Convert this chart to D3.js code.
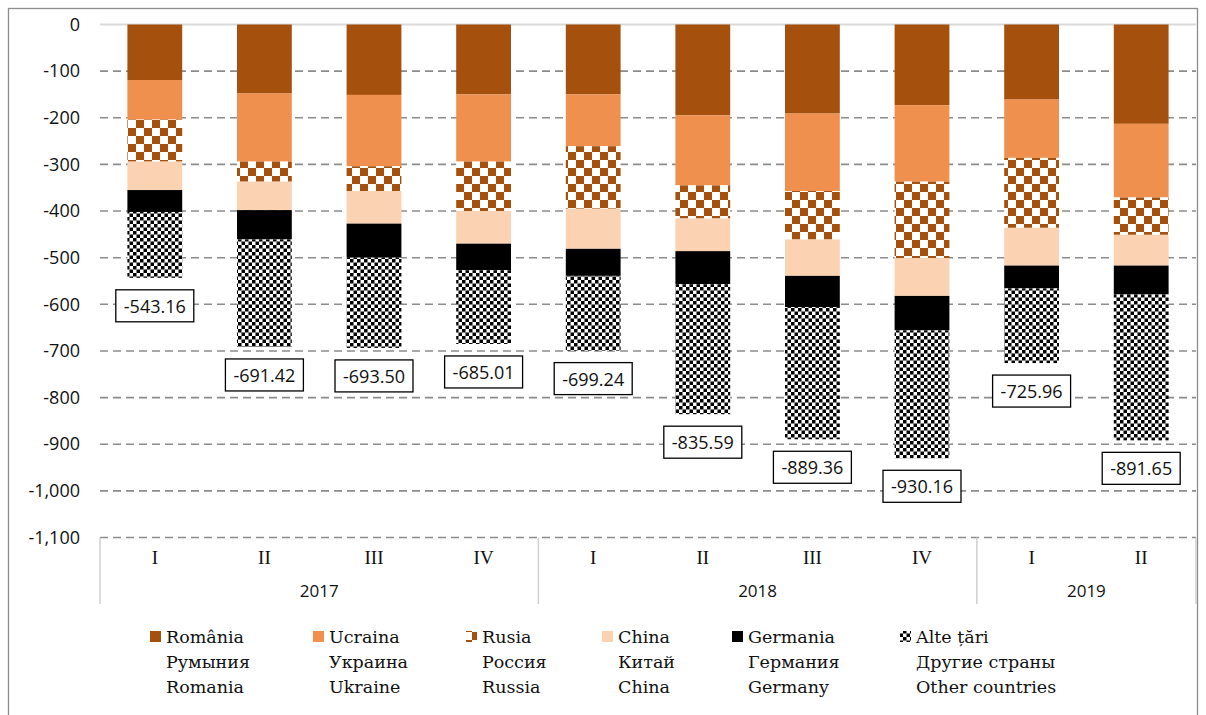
<!DOCTYPE html>
<html><head><meta charset="utf-8">
<script src="https://cdn.jsdelivr.net/npm/d3@7"></script>
<style>body{margin:0;background:#fff}svg{display:block}</style>
</head><body><svg id="c" width="1206" height="715"></svg>
<script>
const quarters = ["I","II","III","IV","I","II","III","IV","I","II"];
const years = ["2017","2017","2017","2017","2018","2018","2018","2018","2019","2019"];
const yearGroups = ["2017","2018","2019"];
const romania = [-119,-148,-151,-150,-150,-195,-191,-173,-161,-213];
const ukraine = [-85,-146,-153,-144,-111,-150,-166,-164,-125,-158];
const russia  = [-90,-43,-53,-106,-134,-71,-104,-164,-150,-80];
const china   = [-61,-61,-70,-70,-86,-70,-78,-81,-81,-66];
const germany = [-47,-63,-73,-57,-58,-71,-67,-74,-49,-62];
const others  = [-141.16,-230.42,-193.50,-158.01,-160.24,-278.59,-283.36,-274.16,-159.96,-312.65];
const totals  = [-543.16,-691.42,-693.50,-685.01,-699.24,-835.59,-889.36,-930.16,-725.96,-891.65];
const yTicks = [0,-100,-200,-300,-400,-500,-600,-700,-800,-900,-1000,-1100];
const seriesNames = [
  ["România","Румыния","Romania"],
  ["Ucraina","Украина","Ukraine"],
  ["Rusia","Россия","Russia"],
  ["China","Китай","China"],
  ["Germania","Германия","Germany"],
  ["Alte țări","Другие страны","Other countries"]
];
const seriesData = [romania, ukraine, russia, china, germany, others];
const fills = ["#a5500c","#f0904f","url(#pRus)","#fbd3b2","#000000","url(#pOth)"];

const svg = d3.select("#c");
const defs = svg.append("defs");
// Russia: large checkerboard brown/white
const pr = defs.append("pattern").attr("id","pRus").attr("patternUnits","userSpaceOnUse").attr("width",16).attr("height",16);
pr.append("rect").attr("width",16).attr("height",16).attr("fill","#fff");
pr.append("rect").attr("width",8).attr("height",8).attr("fill","#a5500c");
pr.append("rect").attr("x",8).attr("y",8).attr("width",8).attr("height",8).attr("fill","#a5500c");
// Others: small checkerboard black/white
const po = defs.append("pattern").attr("id","pOth").attr("patternUnits","userSpaceOnUse").attr("width",7).attr("height",7);
po.append("rect").attr("width",7).attr("height",7).attr("fill","#fff");
po.append("rect").attr("width",3.5).attr("height",3.5).attr("fill","#000");
po.append("rect").attr("x",3.5).attr("y",3.5).attr("width",3.5).attr("height",3.5).attr("fill","#000");

// frame
svg.append("rect").attr("x",8.5).attr("y",8.5).attr("width",1189).attr("height",720)
  .attr("fill","none").attr("stroke","#8c8c8c").attr("stroke-width",1.3);

const x0 = 100, x1 = 1196;
const x = d3.scaleBand().domain(d3.range(quarters.length)).range([x0,x1]).paddingInner(0.5).paddingOuter(0.25);
const y = d3.scaleLinear().domain([0,-1100]).range([24.5,537.5]);

// grid
svg.append("g").selectAll("line").data(yTicks).join("line")
  .attr("x1",x0).attr("x2",x1).attr("y1",d=>y(d)).attr("y2",d=>y(d))
  .attr("stroke",d=>d===0?"#d9d9d9":"#8c8c8c")
  .attr("stroke-width",d=>d===0?2:1.6)
  .attr("stroke-dasharray",d=>d===0?null:"8,5");

// y axis labels
const yAxis = d3.axisLeft(y).tickValues(yTicks).tickSize(0).tickPadding(0).tickFormat(d3.format(","));
const ya = svg.append("g").attr("transform","translate(80,0)").call(yAxis);
ya.select(".domain").remove();
ya.selectAll("text").attr("font-family","Open Sans").attr("font-size",18).attr("fill","#111").text(d=>d3.format(",")(d).replace("−","-"));

// stacks
const cum = quarters.map(()=>0);
seriesData.forEach((arr,si)=>{
  const g = svg.append("g");
  arr.forEach((v,i)=>{
    const top = cum[i], bot = cum[i]+v;
    cum[i] = bot;
    g.append("rect").attr("x",x(i)).attr("width",x.bandwidth())
      .attr("y",y(top)).attr("height",y(bot)-y(top)).attr("fill",fills[si]);
  });
});

// total labels
const lg = svg.append("g");
totals.forEach((t,i)=>{
  const cx = x(i)+x.bandwidth()/2, cy = y(t)+28;
  const txt = d3.format(".2f")(t).replace("−","-");
  const tt = lg.append("text").attr("x",cx).attr("y",cy).attr("text-anchor","middle").attr("dominant-baseline","central")
    .attr("font-family","Open Sans").attr("font-size",18).attr("fill","#111").text(txt);
  const w = tt.node().getComputedTextLength()+16;
  lg.insert("rect","text").attr("x",cx-w/2).attr("y",cy-16).attr("width",w).attr("height",32)
    .attr("fill","#fff").attr("stroke","#000").attr("stroke-width",1.3);
});

// category axis
const step = x.step();
const sepIdx = [0,4,8,10];
svg.append("g").selectAll("line").data(sepIdx).join("line")
  .attr("x1",d=>x0+d*((x1-x0)/quarters.length)).attr("x2",d=>x0+d*((x1-x0)/quarters.length))
  .attr("y1",537.5).attr("y2",604).attr("stroke","#d0d0d0").attr("stroke-width",1.5);
svg.append("g").selectAll("text").data(quarters).join("text")
  .attr("x",(d,i)=>x(i)+x.bandwidth()/2).attr("y",564).attr("text-anchor","middle")
  .attr("font-family","Liberation Serif").attr("font-size",19).attr("fill","#111").text(d=>d);
yearGroups.forEach(yr=>{
  const idx = years.map((v,i)=>v===yr?i:-1).filter(i=>i>=0);
  const cx = (x(idx[0]) + x(idx[idx.length-1]) + x.bandwidth())/2;
  svg.append("text").attr("x",cx).attr("y",597).attr("text-anchor","middle")
    .attr("font-family","Open Sans").attr("font-size",17).attr("fill","#111").text(yr);
});

// legend
const legX = [150,313,466,602,732,900];
const lgd = svg.append("g");
seriesNames.forEach((names,si)=>{
  lgd.append("rect").attr("x",legX[si]).attr("y",631).attr("width",11).attr("height",11).attr("fill",fills[si]);
  names.forEach((n,li)=>{
    lgd.append("text").attr("x",legX[si]+16).attr("y",643+li*25)
      .attr("font-family","DejaVu Serif").attr("font-size",17.5).attr("fill","#111").text(n);
  });
});
</script></body></html>
